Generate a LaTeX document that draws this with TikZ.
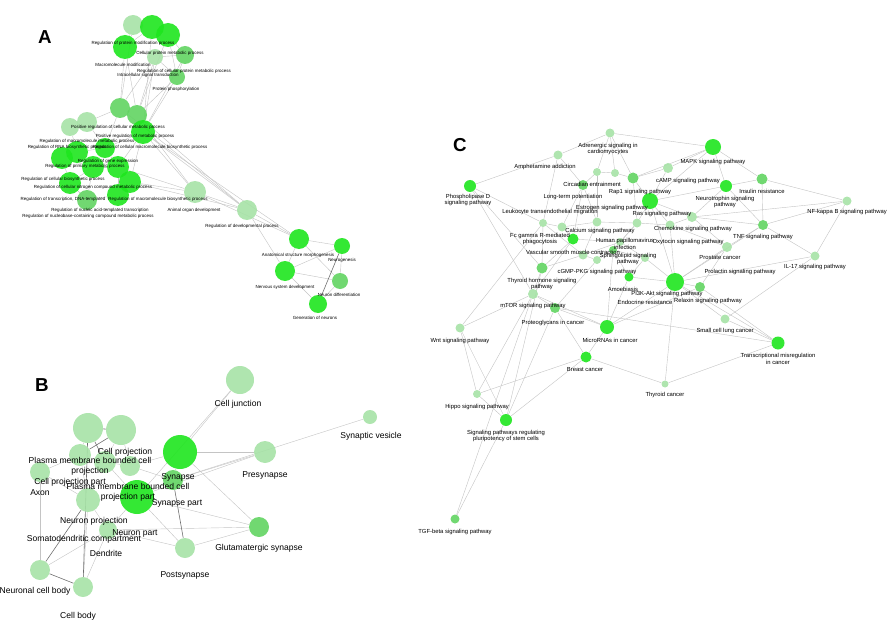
\documentclass[tikz,border=0pt]{standalone}
\usepackage{fontspec}
\setmainfont{Liberation Sans}
\usetikzlibrary{backgrounds}
\definecolor{brightg}{HTML}{1EE61E}
\definecolor{midg}{HTML}{62D462}
\definecolor{paleg}{HTML}{A6E2A6}
\definecolor{edgeg}{HTML}{C4C4C4}
\definecolor{darkedge}{HTML}{6E6E6E}

\begin{document}
\begin{tikzpicture}[x=0.03cm, y=-0.03cm,
    dot/.style={circle, inner sep=0pt, minimum size=#1*0.3mm, fill opacity=0.9},
    edge/.style={edgeg, line width=0.35pt},
    dedge/.style={darkedge, line width=0.5pt},
    lblA/.style={font=\fontsize{3.8}{4.3}\selectfont, align=center, inner sep=0pt},
    lblB/.style={font=\fontsize{7.3}{8.4}\selectfont, align=center, inner sep=0pt},
    lblC/.style={font=\fontsize{5}{5.8}\selectfont, align=center, inner sep=0pt},
    panel/.style={font=\fontsize{16}{16}\selectfont\bfseries, inner sep=0pt}]
  \useasboundingbox (0,0) rectangle (896,622);

  % panel letters
  \node[panel] (pA) at (45,37) {A};
  \node[panel] (pB) at (42,385) {B};
  \node[panel] (pC) at (460,145) {C};

  % ---- A: GO biological process
  \foreach \n/\x/\y/\d/\c in {a1/133/25/20/paleg, a2/152/27/24/brightg, a3/168/35/24/brightg,
      a4/125/47/24/brightg, a5/185/55/18/midg, a6/155/57/16/paleg, a7/177/77/16/midg,
      a8/120/108/20/midg, a9/137/115/20/midg, a10/87/122/20/paleg, a11/70/127/18/paleg,
      a12/143/132/24/brightg, a13/62/158/22/brightg, a14/77/152/22/brightg, a15/118/167/22/brightg,
      a16/130/182/22/brightg, a17/70/183/22/brightg, a18/93/167/22/brightg, a19/118/195/22/brightg,
      a20/87/200/20/midg, a21/105/148/20/brightg, a22/195/192/22/paleg, a23/247/210/20/paleg,
      a24/299/239/20/brightg, a25/342/246/16/brightg, a26/285/271/20/brightg,
      a27/340/281/16/midg, a28/318/304/18/brightg}
    \node[dot=\d, fill=\c] (\n) at (\x,\y) {};

  \foreach \x/\y/\t [count=\i] in {133/43/Regulation of protein modification process,
      170/53/Cellular protein metabolic process, 123/65/Macromolecule modification,
      184/71/Regulation of cellular protein metabolic process,
      148/75/Intracellular signal transduction, 176/89/Protein phosphorylation,
      118/127/Positive regulation of cellular metabolic process,
      135/136/Positive regulation of metabolic process,
      87/141/Regulation of macromolecule metabolic process,
      67/147/Regulation of RNA biosynthetic process,
      150/147/Regulation of cellular macromolecule biosynthetic process,
      108/161/Regulation of gene expression, 85/166/Regulation of primary metabolic process,
      63/179/Regulation of cellular biosynthetic process,
      93/187/Regulation of cellular nitrogen compound metabolic process,
      63/199/{Regulation of transcription, DNA-templated},
      158/199/Regulation of macromolecule biosynthetic process,
      100/210/Regulation of nucleic acid-templated transcription,
      194/210/Animal organ development,
      88/216/Regulation of nucleobase-containing compound metabolic process,
      242/226/Regulation of developmental process,
      298/255/Anatomical structure morphogenesis, 342/260/Neurogenesis,
      285/287/Nervous system development, 339/295/Neuron differentiation,
      315/318/Generation of neurons}
    \node[lblA] (la\i) at (\x,\y) {\t};

  % ---- B: GO cellular component
  \foreach \n/\x/\y/\d/\c in {b1/88/428/30/paleg, b2/121/430/30/paleg, b3/180/452/34/brightg,
      b4/40/472/20/paleg, b5/80/455/22/paleg, b6/105/462/22/paleg, b7/130/466/20/paleg,
      b8/173/480/20/midg, b9/137/497/34/brightg, b10/88/500/24/paleg, b11/108/530/18/paleg,
      b12/185/548/20/paleg, b13/40/570/20/paleg, b14/83/587/20/paleg, b15/240/380/28/paleg,
      b16/370/417/14/paleg, b17/265/452/22/paleg, b18/259/527/20/midg}
    \node[dot=\d, fill=\c] (\n) at (\x,\y) {};

  \foreach \x/\y/\t [count=\i] in {90/466/Plasma membrane bounded cell\\projection,
      125/452/Cell projection, 70/482/Cell projection part,
      128/492/Plasma membrane bounded cell\\projection part, 40/493/Axon,
      178/477/Synapse, 177/503/Synapse part, 94/521/Neuron projection,
      135/533/Neuron part, 84/539/Somatodendritic compartment, 106/553/Dendrite,
      185/575/Postsynapse, 35/591/Neuronal cell body, 78/616/Cell body,
      238/404/Cell junction, 265/475/Presynapse, 371/436/Synaptic vesicle,
      259/548/Glutamatergic synapse}
    \node[lblB] (lb\i) at (\x,\y) {\t};

  % ---- C: KEGG pathways
  \foreach \n/\x/\y/\d/\c in {c1/610/133/9/paleg, c2/558/155/9/paleg, c3/470/186/12/brightg,
      c4/713/147/16/brightg, c5/668/168/10/paleg, c6/633/178/11/midg, c7/762/179/11/midg,
      c8/726/186/12/brightg, c9/650/201/16/brightg, c10/847/201/9/paleg, c11/692/217/10/paleg,
      c12/763/225/10/midg, c13/670/225/9/paleg, c14/727/247/10/paleg, c15/815/256/9/paleg,
      c16/675/282/18/brightg, c17/700/287/10/midg, c18/629/277/9/brightg, c19/725/319/9/paleg,
      c20/778/343/13/brightg, c21/607/327/14/brightg, c22/586/357/11/brightg,
      c23/542/268/11/midg, c24/533/294/10/paleg, c25/555/308/10/midg, c26/460/328/9/paleg,
      c27/477/394/8/paleg, c28/506/420/12/brightg, c29/455/519/9/midg, c30/665/384/7/paleg,
      c32/583/185/10/midg, c33/597/172/8/paleg, c34/615/173/8/paleg, c36/543/223/8/paleg,
      c37/562/227/9/paleg, c38/597/222/9/paleg, c39/637/223/9/paleg, c40/573/239/11/brightg,
      c41/620/242/8/paleg, c42/583/255/9/paleg, c43/597/260/8/paleg, c46/645/258/8/paleg,
      c47/613/250/8/midg}
    \node[dot=\d, fill=\c] (\n) at (\x,\y) {};

  \foreach \x/\y/\t [count=\i] in {608/149/Adrenergic signaling in\\cardiomyocytes,
      545/167/Amphetamine addiction, 468/200/Phospholipase D\\signaling pathway,
      713/162/MAPK signaling pathway, 688/181/cAMP signaling pathway,
      762/191/Insulin resistance, 725/202/Neurotrophin signaling\\pathway,
      847/212/NF-kappa B signaling pathway, 763/237/TNF signaling pathway,
      693/229/Chemokine signaling pathway, 592/184/Circadian entrainment,
      640/192/Rap1 signaling pathway, 573/197/Long-term potentiation,
      550/212/Leukocyte transendothelial migration, 612/208/Estrogen signaling pathway,
      662/214/Ras signaling pathway, 540/239/Fc gamma R-mediated\\phagocytosis,
      600/231/Calcium signaling pathway, 688/242/Oxytocin signaling pathway,
      625/244/Human papillomavirus\\infection, 573/252/Vascular smooth muscle contraction,
      628/259/Sphingolipid signaling\\pathway, 597/272/cGMP-PKG signaling pathway,
      623/289/Amoebiasis, 667/294/PI3K-Akt signaling pathway, 645/302/Endocrine resistance,
      708/301/Relaxin signaling pathway, 720/258/Prostate cancer,
      740/272/Prolactin signaling pathway, 815/267/IL-17 signaling pathway,
      725/331/Small cell lung cancer, 778/359/Transcriptional misregulation\\in cancer,
      610/340/MicroRNAs in cancer, 585/370/Breast cancer,
      542/284/Thyroid hormone signaling\\pathway, 533/306/mTOR signaling pathway,
      553/323/Proteoglycans in cancer, 460/341/Wnt signaling pathway,
      477/407/Hippo signaling pathway,
      506/436/Signaling pathways regulating\\pluripotency of stem cells,
      455/532/TGF-beta signaling pathway, 665/395/Thyroid cancer}
    \node[lblC] (lc\i) at (\x,\y) {\t};

  % connectors behind the nodes
  \begin{scope}[on background layer]
    \foreach \a/\b in {a1/a2, a2/a3, a1/a4, a4/a2, a3/a5, a4/a6, a6/a5, a6/a7, a3/a7, a5/a7,
        a4/a8, a6/a8, a6/a9, a7/a9, a7/a12, a2/a12, a1/a8, a5/a12, a4/a9, a3/a9, a6/a12,
        a8/a9, a9/a12, a8/a10, a10/a11, a11/a14, a14/a13, a13/a17, a17/a20, a20/a19,
        a19/a16, a16/a15, a15/a18, a18/a14, a21/a12, a21/a15, a10/a21, a18/a21, a15/a12,
        a17/a18, a13/a18, a16/a12, a19/a15, a8/a21, a14/a21, a20/a18,
        a12/a22, a12/a23, a9/a23, a8/a23, a15/a22, a16/a22, a22/a23, a16/a23, a9/a22,
        a23/a24, a23/a26, a22/a24, a12/a24,
        a24/a25, a24/a26, a26/a25, a26/a27, a26/a28, a25/a27, a27/a28, a24/a27}
      \draw[edge] (\a) -- (\b);
    \draw[dedge] (a25) -- (a28);

    \foreach \a/\b in {b3/b15, b3/b17, b8/b16, b3/b18, b9/b18, b12/b18, b17/b9, b9/b15,
        b4/b5, b4/b10, b5/b6, b6/b7, b7/b3, b7/b8, b6/b9, b10/b9, b10/b11, b11/b9,
        b11/b12, b13/b11, b14/b11, b14/b10, b10/b5, b1/b5, b2/b7, b2/b6, b3/b8, b9/b8,
        b12/b9, b11/b18, b4/b13, b17/b8}
      \draw[edge] (\a) -- (\b);
    \foreach \a/\b in {b1/b2, b2/b5, b1/b6, b1/b14, b13/b14, b13/b10, b8/b12}
      \draw[dedge] (\a) -- (\b);

    \foreach \a/\b in {c3/c2, c3/c36, c3/c23, c3/c24, c2/c1, c2/c32, c2/c36, c1/c4, c1/c33,
        c1/c34, c1/c6, c4/c6, c4/c9, c4/c8, c4/c5, c4/c7, c5/c6, c5/c9, c7/c8, c7/c12,
        c8/c9, c8/c11, c8/c12, c10/c12, c10/c15, c10/c11, c10/c7, c12/c15, c12/c11,
        c12/c14, c12/c16, c13/c9, c13/c11, c13/c16, c14/c16, c14/c17, c15/c16, c15/c19,
        c16/c17, c16/c20, c17/c20, c19/c20, c16/c19, c16/c21, c16/c18, c16/c30, c20/c30,
        c17/c21, c21/c22, c21/c25, c21/c18, c22/c28, c22/c30, c22/c25, c22/c27, c26/c24,
        c26/c28, c26/c27, c26/c36, c27/c28, c27/c24, c28/c29, c28/c25, c28/c23, c24/c25,
        c24/c23, c23/c40, c23/c36, c25/c43, c21/c47, c18/c47, c18/c46, c32/c33, c33/c34,
        c34/c6, c32/c38, c32/c40, c36/c37, c37/c40, c37/c38, c38/c39, c39/c9, c39/c13,
        c40/c41, c41/c42, c42/c43, c43/c47, c47/c46, c46/c16, c41/c39, c38/c42, c9/c11,
        c6/c39, c33/c38, c36/c42, c37/c32, c40/c24, c42/c23, c41/c46, c11/c14, c39/c47,
        c6/c9, c13/c14, c9/c16, c25/c20, c24/c21, c29/c24}
      \draw[edge] (\a) -- (\b);
  \end{scope}
\end{tikzpicture}
\end{document}
